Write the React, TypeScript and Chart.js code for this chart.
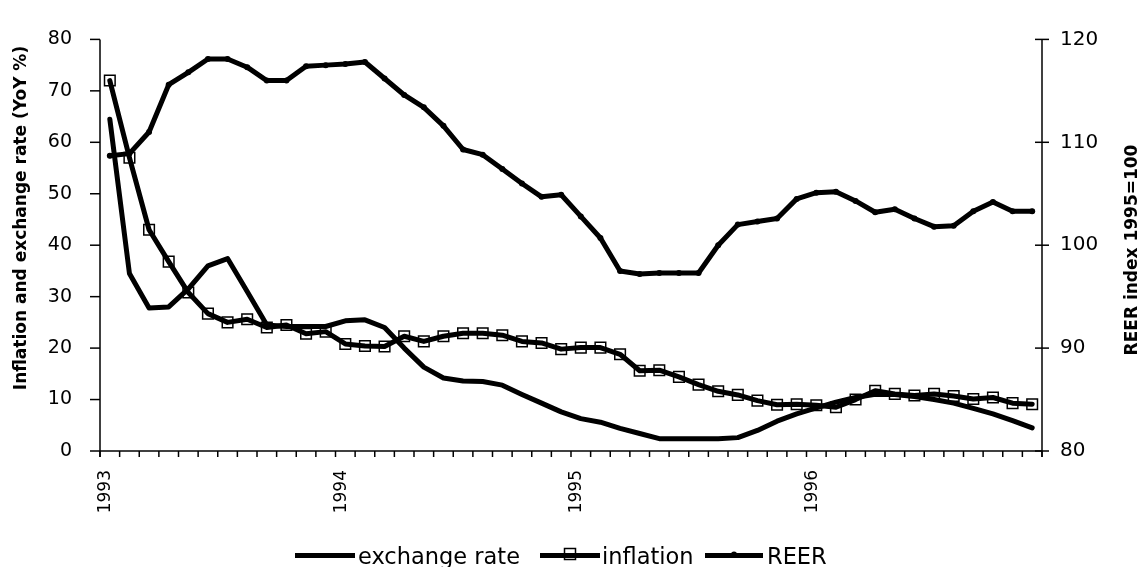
import React, { useEffect, useRef } from 'react';
import { Chart, registerables } from 'chart.js';

Chart.register(...registerables);

// ---- data ----
const years = ['1993', '1994', '1995', '1996'];
const monthNames = ['Jan', 'Feb', 'Mar', 'Apr', 'May', 'Jun', 'Jul', 'Aug', 'Sep', 'Oct', 'Nov', 'Dec'];
const categories = years.flatMap((y) => monthNames.map((m) => `${m} ${y}`));

const exchangeRate = [
  64.5, 34.5, 27.8, 28.0, 31.5, 36.0, 37.4, 31.0, 24.5, 24.2, 24.2, 24.2,
  25.3, 25.5, 24.0, 20.0, 16.3, 14.2, 13.6, 13.5, 12.8, 11.0, 9.3, 7.6,
  6.3, 5.6, 4.4, 3.4, 2.4, 2.4, 2.4, 2.4, 2.6, 4.0, 5.8, 7.2,
  8.4, 9.5, 10.4, 11.0, 11.0, 10.6, 10.0, 9.3, 8.3, 7.2, 5.9, 4.5,
];
const inflation = [
  72.0, 57.0, 43.0, 36.8, 30.8, 26.7, 25.0, 25.6, 24.0, 24.5, 22.8, 23.2,
  20.8, 20.4, 20.3, 22.3, 21.3, 22.3, 22.9, 22.9, 22.5, 21.3, 21.0, 19.8,
  20.1, 20.1, 18.8, 15.6, 15.7, 14.4, 12.9, 11.6, 10.9, 9.8, 9.0, 9.1,
  8.9, 8.5, 10.0, 11.7, 11.1, 10.8, 11.1, 10.7, 10.1, 10.4, 9.3, 9.1,
];
const reer = [
  108.7, 108.9, 111.0, 115.6, 116.8, 118.1, 118.1, 117.3, 116.0, 116.0, 117.4, 117.5,
  117.6, 117.8, 116.2, 114.6, 113.4, 111.6, 109.3, 108.8, 107.4, 106.0, 104.7, 104.9,
  102.8, 100.7, 97.5, 97.2, 97.3, 97.3, 97.3, 100.0, 102.0, 102.3, 102.6, 104.5,
  105.1, 105.2, 104.3, 103.2, 103.5, 102.6, 101.8, 101.9, 103.3, 104.2, 103.3, 103.3,
];

const leftAxis = { min: 0, max: 80, step: 10, title: 'Inflation and exchange rate (YoY %)' };
const rightAxis = { min: 80, max: 120, step: 10, title: 'REER index 1995=100' };
const seriesNames = ['exchange rate', 'inflation', 'REER'];

const FONT = '"DejaVu Sans", "Liberation Sans", Arial, sans-serif';

const decorPlugin = {
  id: 'decor',
  beforeDatasetsDraw(chart: any) {
    const { ctx, chartArea: ca, scales } = chart;
    const x = scales.x;
    const y = scales.y;
    const y1 = scales.y1;
    const line = (x0: number, y0: number, x2: number, y2: number) => {
      ctx.beginPath();
      ctx.moveTo(x0, y0);
      ctx.lineTo(x2, y2);
      ctx.stroke();
    };
    ctx.save();
    ctx.strokeStyle = '#000';
    ctx.lineWidth = 1.5;
    line(ca.left, ca.top, ca.left, ca.bottom + 6);
    line(ca.right, ca.top, ca.right, ca.bottom + 6);
    line(ca.left, ca.bottom, ca.right, ca.bottom);
    y.ticks.forEach((t: any) => {
      const py = y.getPixelForValue(t.value);
      line(ca.left - 10, py, ca.left, py);
    });
    y1.ticks.forEach((t: any) => {
      const py = y1.getPixelForValue(t.value);
      line(ca.right - 7, py, ca.right + 7, py);
    });
    const n = chart.data.labels.length;
    const step = x.getPixelForValue(1) - x.getPixelForValue(0);
    const start = x.getPixelForValue(0) - step / 2;
    for (let i = 0; i <= n; i++) {
      const px = start + i * step;
      line(px, ca.bottom, px, ca.bottom + 6);
    }
    // right-axis tick labels, left aligned
    ctx.fillStyle = '#000';
    ctx.font = `20px ${FONT}`;
    ctx.textAlign = 'left';
    ctx.textBaseline = 'middle';
    y1.ticks.forEach((t: any) => {
      const py = y1.getPixelForValue(t.value);
      ctx.fillText(String(t.value), ca.right + 18, py);
    });
    ctx.restore();
  },
  afterDraw(chart: any) {
    const { ctx } = chart;
    ctx.save();
    ctx.fillStyle = '#000';
    // axis titles (both read bottom-to-top)
    ctx.font = `bold 17px ${FONT}`;
    ctx.textAlign = 'center';
    ctx.textBaseline = 'alphabetic';
    ctx.save();
    ctx.translate(26, 218);
    ctx.rotate(-Math.PI / 2);
    ctx.fillText(leftAxis.title, 0, 0);
    ctx.restore();
    ctx.save();
    ctx.translate(1137, 250);
    ctx.rotate(-Math.PI / 2);
    ctx.fillText(rightAxis.title, 0, 0);
    ctx.restore();

    // legend
    const ly = 555.5;
    ctx.strokeStyle = '#000';
    ctx.lineCap = 'butt';
    const items = [
      { x0: 295, x1: 355, tx: 358, marker: 'none' },
      { x0: 540, x1: 600, tx: 602, marker: 'square' },
      { x0: 705, x1: 763, tx: 767, marker: 'dot' },
    ];
    ctx.font = `22.5px ${FONT}`;
    ctx.textAlign = 'left';
    items.forEach((it, i) => {
      ctx.lineWidth = 5;
      ctx.beginPath();
      ctx.moveTo(it.x0, ly);
      ctx.lineTo(it.x1, ly);
      ctx.stroke();
      const cx = (it.x0 + it.x1) / 2;
      if (it.marker === 'square') {
        ctx.lineWidth = 1.5;
        ctx.strokeRect(cx - 5.5, ly - 7, 11, 11);
      } else if (it.marker === 'dot') {
        ctx.beginPath();
        ctx.arc(cx, ly - 1, 3, 0, Math.PI * 2);
        ctx.fill();
      }
      ctx.fillText(seriesNames[i], it.tx, 564);
    });
    ctx.restore();
  },
};

export default function App() {
  const ref = useRef<HTMLCanvasElement | null>(null);

  useEffect(() => {
    if (!ref.current) return;
    const chart = new Chart(ref.current, {
      type: 'line',
      data: {
        labels: categories,
        datasets: [
          {
            label: seriesNames[0],
            data: exchangeRate,
            yAxisID: 'y',
            borderColor: '#000',
            borderWidth: 5,
            pointRadius: 0,
            tension: 0,
            borderJoinStyle: 'round',
            borderCapStyle: 'round',
          },
          {
            label: seriesNames[1],
            data: inflation,
            yAxisID: 'y',
            borderColor: '#000',
            borderWidth: 5,
            pointStyle: 'rect',
            pointRadius: 7.5,
            pointBorderWidth: 1.5,
            pointBorderColor: '#000',
            pointBackgroundColor: 'rgba(0,0,0,0)',
            tension: 0,
            borderJoinStyle: 'round',
            borderCapStyle: 'round',
          },
          {
            label: seriesNames[2],
            data: reer,
            yAxisID: 'y1',
            borderColor: '#000',
            backgroundColor: '#000',
            borderWidth: 5,
            pointStyle: 'circle',
            pointRadius: 3,
            pointBorderWidth: 0,
            pointBackgroundColor: '#000',
            tension: 0,
            borderJoinStyle: 'round',
            borderCapStyle: 'round',
          },
        ],
      },
      options: {
        responsive: false,
        animation: false,
        layout: { padding: { top: 25, left: 0, right: 0, bottom: 0 } },
        plugins: {
          legend: { display: false },
          tooltip: { enabled: false },
          title: { display: false },
        },
        scales: {
          x: {
            type: 'category',
            offset: true,
            border: { display: false },
            grid: { display: false, drawTicks: false, offset: true },
            ticks: {
              autoSkip: false,
              maxRotation: 90,
              minRotation: 90,
              padding: 19,
              labelOffset: -4,
              color: '#000',
              font: { family: FONT, size: 17 },
              callback: (_v: any, i: number) => (i % 12 === 0 ? years[i / 12] : ''),
            },
            afterFit: (s: any) => {
              s.height = 116;
            },
          },
          y: {
            position: 'left',
            min: leftAxis.min,
            max: leftAxis.max,
            border: { display: false },
            grid: { display: false, drawTicks: false },
            ticks: {
              stepSize: leftAxis.step,
              padding: 28,
              color: '#000',
              font: { family: FONT, size: 19 },
            },
            afterFit: (s: any) => {
              s.width = 100;
            },
          },
          y1: {
            position: 'right',
            min: rightAxis.min,
            max: rightAxis.max,
            border: { display: false },
            grid: { display: false, drawTicks: false },
            ticks: {
              display: false,
              stepSize: rightAxis.step,
            },
            afterFit: (s: any) => {
              s.width = 96;
            },
          },
        },
      },
      plugins: [decorPlugin],
    });
    return () => chart.destroy();
  }, []);

  return (
    <div style={{ position: 'fixed', left: 0, top: 0, width: 1138, height: 567, background: '#fff' }}>
      <canvas ref={ref} width={1138} height={567} />
    </div>
  );
}
